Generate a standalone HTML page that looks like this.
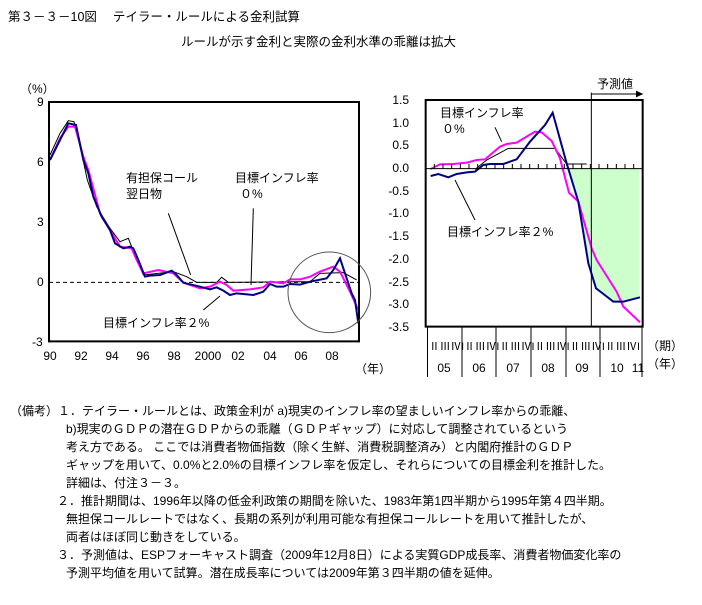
<!DOCTYPE html>
<html><head><meta charset="utf-8"><style>
body{margin:0;background:#fff;width:702px;height:605px;overflow:hidden;font-family:"Liberation Sans","Noto Sans CJK JP",sans-serif;}
svg text{font-family:"Liberation Sans","Noto Sans CJK JP",sans-serif;}
.n{position:absolute;font-size:12px;white-space:nowrap;line-height:18px;}
</style></head><body>
<svg width="702" height="605" style="position:absolute;left:0;top:0">
<text x="8" y="21" font-size="12.5">第３－３－10図　 テイラー・ルールによる金利試算</text>
<text x="181" y="46" font-size="12.5">ルールが示す金利と実際の金利水準の乖離は拡大</text>
<!-- left chart -->
<g font-size="12">
<text x="20" y="93">（%）</text>
<text x="37" y="106">9</text><text x="37" y="166">6</text><text x="37" y="226">3</text><text x="37" y="286">0</text><text x="32" y="346">-3</text>
<g text-anchor="middle">
<text x="50" y="360">90</text><text x="81" y="360">92</text><text x="112" y="360">94</text><text x="143" y="360">96</text><text x="174" y="360">98</text><text x="208" y="360">2000</text><text x="238" y="360">02</text><text x="270" y="360">04</text><text x="301" y="360">06</text><text x="332" y="360">08</text>
</g>
<text x="355" y="373">（年）</text>
<text x="126" y="182">有担保コール</text><text x="126" y="198">翌日物</text>
<text x="235" y="182">目標インフレ率</text><text x="240" y="198">０%</text>
<text x="103" y="327">目標インフレ率２%</text>
</g>
<g transform="translate(0,80) scale(0.33333)" fill="none">
<line x1="147" y1="607" x2="1077" y2="607" stroke="#000" stroke-width="1" stroke-dasharray="4,3" vector-effect="non-scaling-stroke"/>
<polyline vector-effect="non-scaling-stroke" stroke="#000" stroke-width="1" points="150,225 180,160 205,122 222,125 245,220 262,300 290,380 330,445 360,485 385,475 395,500 410,540 430,585 520,575 560,590 590,607 650,607 665,592 685,607 930,605 960,580 1030,578 1070,600"/>
<polyline vector-effect="non-scaling-stroke" stroke="#ff00ff" stroke-width="2" points="150,240 180,175 205,140 225,140 250,230 265,270 300,400 330,450 360,500 395,505 410,540 430,580 475,570 520,580 550,608 600,625 630,620 660,605 680,615 700,632 750,628 790,622 810,605 850,610 870,598 900,598 930,590 960,575 1000,560 1020,575 1050,635 1075,690"/>
<polyline vector-effect="non-scaling-stroke" stroke="#000080" stroke-width="2" points="150,240 180,180 205,130 228,135 250,240 265,280 280,350 305,410 330,450 345,490 370,505 390,500 400,505 415,540 435,590 450,587 480,585 515,572 530,585 550,608 600,620 630,628 650,622 670,632 690,645 710,640 760,645 790,635 810,612 830,620 850,620 870,612 900,614 930,605 980,595 1000,570 1020,535 1040,595 1055,640 1065,660 1075,730"/>
<rect x="147" y="66" width="930" height="718" stroke="#000" stroke-width="2" vector-effect="non-scaling-stroke"/>
<ellipse cx="988" cy="637" rx="124" ry="121" stroke="#555" stroke-width="1" vector-effect="non-scaling-stroke"/>
<g stroke="#000" stroke-width="1">
<line x1="505" y1="400" x2="572" y2="585" vector-effect="non-scaling-stroke"/>
<line x1="760" y1="385" x2="753" y2="615" vector-effect="non-scaling-stroke"/>
<line x1="610" y1="690" x2="660" y2="648" vector-effect="non-scaling-stroke"/>
</g>
</g>
<!-- right chart -->
<g font-size="12" text-anchor="end">
<text x="409" y="104">1.5</text><text x="409" y="127">1.0</text><text x="409" y="149">0.5</text><text x="409" y="172">0.0</text><text x="409" y="195">-0.5</text><text x="409" y="217">-1.0</text><text x="409" y="240">-1.5</text><text x="409" y="263">-2.0</text><text x="409" y="286">-2.5</text><text x="409" y="308">-3.0</text><text x="409" y="331">-3.5</text>
</g>
<g transform="translate(370,70) scale(0.33333)" fill="none">
<polygon fill="#ccffcc" points="588,296 808,296 808,682 760,695 730,695 678,655 655,580 625,395 590,280"/>
<polyline vector-effect="non-scaling-stroke" stroke="#000" stroke-width="1" points="315,298 350,270 415,235 555,235 590,282 650,282"/>
<polyline vector-effect="non-scaling-stroke" stroke="#ff00ff" stroke-width="2" points="182,297 210,283 250,282 290,278 320,270 345,268 390,230 410,222 440,218 470,200 495,185 515,187 545,213 570,265 597,368 625,395 665,535 680,570 740,665 760,710 790,738 810,757"/>
<polyline vector-effect="non-scaling-stroke" stroke="#000080" stroke-width="2" points="182,318 205,312 235,322 260,312 290,307 315,305 340,285 360,282 400,282 440,268 480,215 525,165 548,128 590,280 625,395 655,580 678,655 730,695 760,695 810,682"/>
<line x1="167" y1="296" x2="818" y2="296" stroke="#000" vector-effect="non-scaling-stroke"/>
<path vector-effect="non-scaling-stroke" stroke="#000" d="M193,296v-14M219,296v-14M245,296v-14M271,296v-14M297,296v-14M323,296v-14M349,296v-14M375,296v-14M401,296v-14M427,296v-14M453,296v-14M479,296v-14M505,296v-14M531,296v-14M557,296v-14M583,296v-14M609,296v-14M635,296v-14M661,296v-14M687,296v-14M713,296v-14M739,296v-14M765,296v-14M791,296v-14"/>
<rect x="167" y="90" width="651" height="680" stroke="#000" stroke-width="2" vector-effect="non-scaling-stroke"/>
<line x1="664" y1="68" x2="664" y2="770" stroke="#000" vector-effect="non-scaling-stroke"/>
<line x1="664" y1="72" x2="800" y2="72" stroke="#000" vector-effect="non-scaling-stroke"/>
<polygon points="798,62 820,72 798,82" fill="#000"/>
<line x1="375" y1="172" x2="395" y2="215" stroke="#000" vector-effect="non-scaling-stroke"/>
<line x1="255" y1="330" x2="315" y2="450" stroke="#000" vector-effect="non-scaling-stroke"/>
</g>
<g stroke="#000" stroke-width="1">
<line x1="427.5" y1="327" x2="427.5" y2="377"/><line x1="462" y1="327" x2="462" y2="377"/><line x1="496" y1="327" x2="496" y2="377"/><line x1="531" y1="327" x2="531" y2="377"/><line x1="566" y1="327" x2="566" y2="377"/><line x1="600" y1="327" x2="600" y2="377"/><line x1="642" y1="327" x2="642" y2="377"/>
</g>
<g font-size="12">
<text x="597" y="88">予測値</text>
<text x="440" y="117">目標インフレ率</text><text x="442" y="133">０%</text>
<text x="447" y="236">目標インフレ率２%</text>
<text x="426" y="350" font-size="11" textLength="214" lengthAdjust="spacingAndGlyphs">IⅡⅢⅣIⅡⅢⅣIⅡⅢⅣIⅡⅢⅣIⅡⅢⅣIⅡⅢⅣI</text>
<g text-anchor="middle"><text x="444" y="372">05</text><text x="479" y="372">06</text><text x="513" y="372">07</text><text x="548" y="372">08</text><text x="582" y="372">09</text><text x="617" y="372">10</text><text x="638" y="372">11</text></g>
<text x="647" y="350">（期）</text><text x="647" y="368">（年）</text>
</g>
</svg>
<div class="n" style="left:10px;top:402px">（備考）１．テイラー・ルールとは、政策金利が a)現実のインフレ率の望ましいインフレ率からの乖離、</div>
<div class="n" style="left:66px;top:420px">b)現実のＧＤＰの潜在ＧＤＰからの乖離（ＧＤＰギャップ）に対応して調整されているという</div>
<div class="n" style="left:66px;top:438px">考え方である。 ここでは消費者物価指数（除く生鮮、消費税調整済み）と内閣府推計のＧＤＰ</div>
<div class="n" style="left:66px;top:456px">ギャップを用いて、0.0%と2.0%の目標インフレ率を仮定し、それらについての目標金利を推計した。</div>
<div class="n" style="left:66px;top:474px">詳細は、付注３－３。</div>
<div class="n" style="left:57px;top:492px">２．推計期間は、1996年以降の低金利政策の期間を除いた、1983年第1四半期から1995年第４四半期。</div>
<div class="n" style="left:66px;top:510px">無担保コールレートではなく、長期の系列が利用可能な有担保コールレートを用いて推計したが、</div>
<div class="n" style="left:66px;top:528px">両者はほぼ同じ動きをしている。</div>
<div class="n" style="left:57px;top:546px">３．予測値は、ESPフォーキャスト調査（2009年12月8日）による実質GDP成長率、消費者物価変化率の</div>
<div class="n" style="left:66px;top:564px">予測平均値を用いて試算。潜在成長率については2009年第３四半期の値を延伸。</div>
</body></html>
